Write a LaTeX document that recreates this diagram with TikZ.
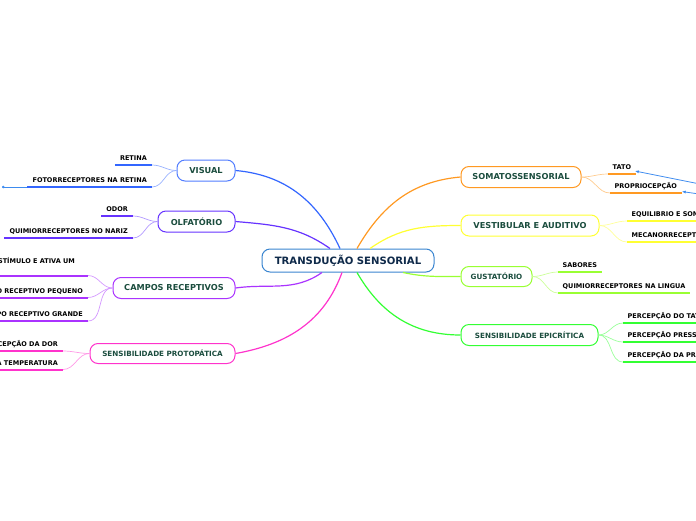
\documentclass[tikz,border=0pt]{standalone}
\usepackage{fontspec}
\setmainfont{DejaVu Sans}
\usetikzlibrary{arrows.meta}
\definecolor{Navy}{HTML}{0F2A4A}
\definecolor{Pine}{HTML}{1B4D3E}
\definecolor{RootBlue}{HTML}{3A85D0}
\definecolor{VisBlue}{HTML}{3366FF}
\definecolor{OlfPurple}{HTML}{6633FF}
\definecolor{CampViolet}{HTML}{AA33FF}
\definecolor{ProtMagenta}{HTML}{FF33CC}
\definecolor{SomOrange}{HTML}{FF9922}
\definecolor{VestYellow}{HTML}{FFFF33}
\definecolor{GustLime}{HTML}{99FF33}
\definecolor{EpiGreen}{HTML}{33FF33}
\definecolor{LinkBlue}{HTML}{3D8BEF}

\tikzset{
  topic/.style={draw=#1,line width=1pt,fill=white,rounded corners=8pt,
    text=Pine,font=\bfseries\fontsize{8.2}{9.5}\selectfont,inner xsep=0pt,minimum height=21pt},
  smalltopic/.style={topic=#1,font=\bfseries\fontsize{7.2}{8.5}\selectfont},
  branch/.style={draw=#1,line width=1.2pt},
  twig/.style={draw=#1!50,line width=0.7pt},
  uline/.style={draw=#1,line width=2pt},
  leafl/.style={anchor=south east,font=\bfseries\fontsize{6.5}{8}\selectfont,
    inner xsep=5pt,inner ysep=4.3pt,text height=4.8pt,text depth=0pt},
  leafr/.style={leafl,anchor=south west,inner xsep=4.5pt},
  link/.style={draw=LinkBlue,line width=0.8pt},
}

\begin{document}
\begin{tikzpicture}[x=1pt,y=1pt]
  \useasboundingbox (0,0) rectangle (696,-520);

  % central topic
  \node[draw=RootBlue,line width=1pt,fill=white,rounded corners=8pt,
    minimum width=172pt,minimum height=23pt,inner xsep=0pt,
    text=Navy,font=\bfseries\fontsize{10.1}{12}\selectfont] (root) at (348,-260.5) {TRANSDUÇÃO SENSORIAL};

  % main topics, left
  \node[topic=VisBlue!85,minimum width=58pt] (visual) at (206,-170.5) {VISUAL};
  \node[topic=OlfPurple,minimum width=77pt] (olfato) at (196.5,-221.5) {OLFATÓRIO};
  \node[topic=CampViolet,minimum width=122pt] (campos) at (174,-288) {CAMPOS RECEPTIVOS};
  \node[smalltopic=ProtMagenta,minimum width=145pt,minimum height=20pt] (proto) at (162.5,-353.5) {SENSIBILIDADE PROTOPÁTICA};

  % main topics, right
  \node[topic=SomOrange,minimum width=120pt] (somato) at (521,-177) {SOMATOSSENSORIAL};
  \node[topic=VestYellow,minimum width=138pt] (vestib) at (530,-225.5) {VESTIBULAR E AUDITIVO};
  \node[smalltopic=GustLime,minimum width=71pt,minimum height=20pt] (gusto) at (496.5,-276.5) {GUSTATÓRIO};
  \node[smalltopic=EpiGreen,minimum width=137pt] (epicr) at (529.5,-335) {SENSIBILIDADE EPICRÍTICA};

  % branches from the centre
  \draw[branch=VisBlue] ([xshift=-8pt]root.north) to[out=115,in=-5] (visual.east);
  \draw[branch=OlfPurple] ([xshift=-18pt]root.north) to[out=145,in=-5] (olfato.east);
  \draw[branch=CampViolet] ([xshift=-26pt]root.south) to[out=215,in=8] (campos.east);
  \draw[branch=ProtMagenta] ([xshift=-6pt]root.south) to[out=-110,in=10] (proto.east);
  \draw[branch=SomOrange] ([xshift=9pt]root.north) to[out=60,in=185] (somato.west);
  \draw[branch=VestYellow] ([xshift=22pt]root.north) to[out=35,in=180] (vestib.west);
  \draw[branch=GustLime] ([xshift=55pt]root.south) to[out=-12,in=180] (gusto.west);
  \draw[branch=EpiGreen] ([xshift=9pt]root.south) to[out=-60,in=180] (epicr.west);

  % leaves, left
  \node[leafl] (retina) at (152,-165) {RETINA};
  \node[leafl] (foto) at (152,-187) {FOTORRECEPTORES NA RETINA};
  \node[leafl] (odor) at (133,-216) {ODOR};
  \node[leafl] (nariz) at (133,-238) {QUIMIORRECEPTORES NO NARIZ};
  \node[leafl,text depth=7.5pt,inner xsep=13pt] (estimulo) at (88,-275.5) {ESTÍMULO E ATIVA UM};
  \node[leafl] (pequeno) at (88,-297.5) {CAMPO RECEPTIVO PEQUENO};
  \node[leafl] (grande) at (88,-321) {CAMPO RECEPTIVO GRANDE};
  \node[leafl] (dor) at (63,-351) {PERCEPÇÃO DA DOR};
  \node[leafl] (temper) at (63,-369.5) {PERCEPÇÃO DA TEMPERATURA};

  % leaves, right
  \node[leafr] (tato) at (608,-174) {TATO};
  \node[leafr] (proprio) at (610,-193) {PROPRIOCEPÇÃO};
  \node[leafr] (equil) at (627,-221) {EQUILIBRIO E SOM};
  \node[leafr] (mecano) at (627,-242) {MECANORRECEPTORES};
  \node[leafr] (sabores) at (558,-272) {SABORES};
  \node[leafr] (lingua) at (558,-293) {QUIMIORRECEPTORES NA LINGUA};
  \node[leafr] (ptato) at (623,-323) {PERCEPÇÃO DO TATO};
  \node[leafr] (ppress) at (623,-342) {PERCEPÇÃO PRESSÃO};
  \node[leafr] (pprof) at (623,-362) {PERCEPÇÃO DA PROPRIOCEPÇÃO};

  % twigs and underlines
  \foreach \topicname/\leaf/\col in {visual/retina/VisBlue,visual/foto/VisBlue,
      olfato/odor/OlfPurple,olfato/nariz/OlfPurple,
      campos/estimulo/CampViolet,campos/pequeno/CampViolet,campos/grande/CampViolet,
      proto/dor/ProtMagenta,proto/temper/ProtMagenta}{
    \draw[twig=\col] (\topicname.west) to[out=180,in=0] (\leaf.south east);
    \draw[uline=\col] (\leaf.south west) -- (\leaf.south east);
  }
  \foreach \topicname/\leaf/\col in {somato/tato/SomOrange,somato/proprio/SomOrange,
      vestib/equil/VestYellow,vestib/mecano/VestYellow,
      gusto/sabores/GustLime,gusto/lingua/GustLime,
      epicr/ptato/EpiGreen,epicr/ppress/EpiGreen,epicr/pprof/EpiGreen}{
    \draw[twig=\col] (\topicname.east) to[out=0,in=180] (\leaf.south west);
    \draw[uline=\col] (\leaf.south west) -- (\leaf.south east);
  }

  % cross links
  \coordinate (linkA) at (720,-188);
  \coordinate (linkB) at (720,-197);
  \coordinate (linkC) at (2,-187);
  \draw[link,-{Latex[length=4pt]}] (linkA) -- ([xshift=-1pt,yshift=3pt]tato.south east);
  \draw[link,-{Latex[length=4pt]}] (linkB) -- ([yshift=1.5pt]proprio.south east);
  \draw[link,line width=0.5pt,{Circle[length=2.5pt]}-] (linkC) -- (foto.south west);
\end{tikzpicture}
\end{document}
